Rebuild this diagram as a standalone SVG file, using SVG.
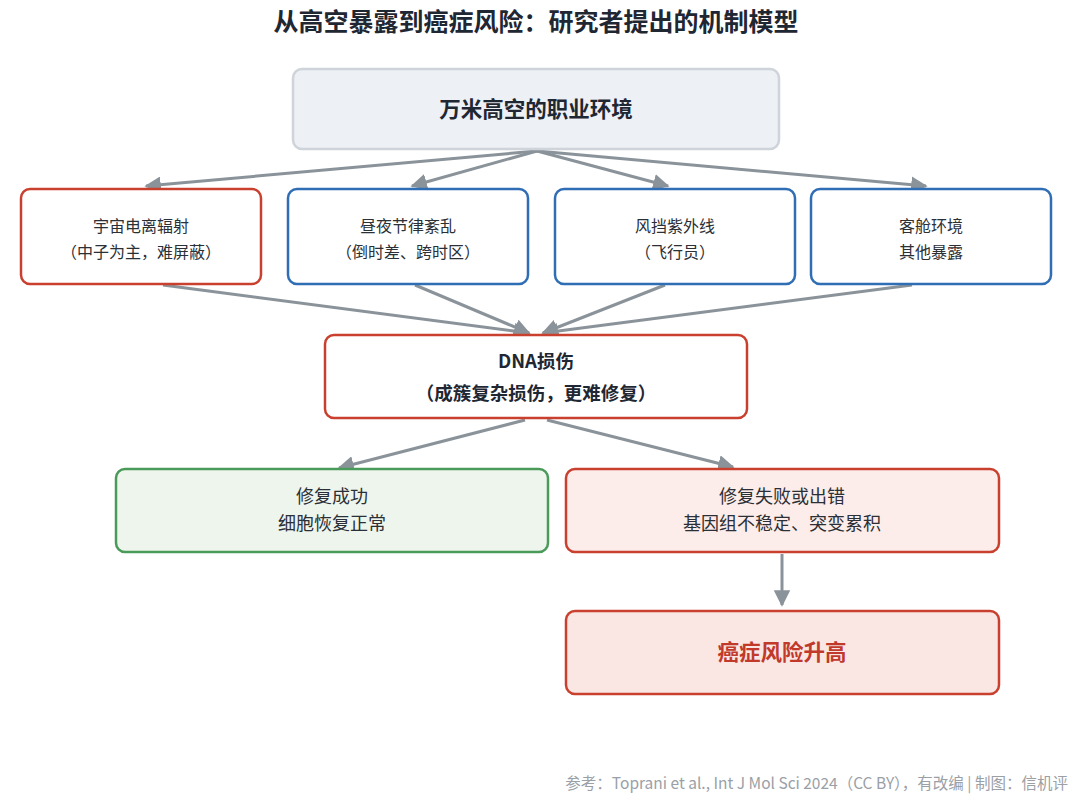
<svg xmlns="http://www.w3.org/2000/svg" width="1080" height="804" viewBox="0 0 1080 804">
<style>
text{font-family:"Noto Sans CJK SC","Noto Sans",sans-serif;text-anchor:middle}
.title{font-size:25px;font-weight:700;fill:#1f2733}
.lbl{font-size:16px;fill:#2b2f36}
.lbl2{font-size:18px;fill:#2b2f36}
.bold{font-weight:700;fill:#1f2733}
.red{stroke:#c9402f;stroke-width:2.5;fill:#fff}
.blue{stroke:#2f6db5;stroke-width:2.5;fill:#fff}
.conn line{stroke:#8b939a;stroke-width:3;marker-end:url(#ah)}
.foot{font-size:15.5px;fill:#9aa0a6;text-anchor:end}
</style>
<defs>
<marker id="ah" viewBox="0 0 10 10" refX="9" refY="5" markerWidth="5.5" markerHeight="5.5" orient="auto" markerUnits="strokeWidth">
<path d="M0,0 L10,5 L0,10 z" fill="#8b939a"/>
</marker>
</defs>
<rect width="1080" height="804" fill="#fff"/>
<text class="title" x="536" y="31">从高空暴露到癌症风险：研究者提出的机制模型</text>

<g class="conn" id="connectors">
<line x1="537" y1="151" x2="146" y2="186"/>
<line x1="537" y1="151" x2="412" y2="186"/>
<line x1="537" y1="151" x2="668" y2="186"/>
<line x1="537" y1="151" x2="926" y2="186"/>
<line x1="163" y1="285" x2="529" y2="333"/>
<line x1="415" y1="285" x2="529" y2="333"/>
<line x1="665" y1="285" x2="543" y2="333"/>
<line x1="912" y1="285" x2="543" y2="333"/>
<line x1="525" y1="420" x2="339" y2="468"/>
<line x1="547" y1="420" x2="733" y2="467"/>
<line x1="782" y1="554" x2="782" y2="605"/>
</g>

<g id="n-top">
<rect x="293" y="69" width="486" height="80" rx="9" fill="#edf0f5" stroke="#cfd4da" stroke-width="2.5"/>
<text class="bold" x="536" y="117" font-size="21.5">万米高空的职业环境</text>
</g>
<g id="n-radiation">
<rect class="red" x="21" y="189" width="240" height="95" rx="9"/>
<text class="lbl" x="141" y="232">宇宙电离辐射</text>
<text class="lbl" x="141" y="258">（中子为主，难屏蔽）</text>
</g>
<g id="n-circadian">
<rect class="blue" x="288" y="189" width="240" height="95" rx="9"/>
<text class="lbl" x="408" y="232">昼夜节律紊乱</text>
<text class="lbl" x="408" y="258">（倒时差、跨时区）</text>
</g>
<g id="n-uv">
<rect class="blue" x="555" y="189" width="240" height="95" rx="9"/>
<text class="lbl" x="675" y="232">风挡紫外线</text>
<text class="lbl" x="675" y="258">（飞行员）</text>
</g>
<g id="n-cabin">
<rect class="blue" x="811" y="189" width="240" height="95" rx="9"/>
<text class="lbl" x="931" y="232">客舱环境</text>
<text class="lbl" x="931" y="258">其他暴露</text>
</g>
<g id="n-dna">
<rect class="red" x="325" y="335" width="422" height="83" rx="9"/>
<text class="bold" x="536" y="368" font-size="18.5">DNA损伤</text>
<text class="bold" x="536" y="400" font-size="18.5">（成簇复杂损伤，更难修复）</text>
</g>
<g id="n-success">
<rect x="116" y="469" width="432" height="83" rx="9" fill="#eef5ed" stroke="#4a9a5a" stroke-width="2.5"/>
<text class="lbl2" x="332" y="503">修复成功</text>
<text class="lbl2" x="332" y="530">细胞恢复正常</text>
</g>
<g id="n-fail">
<rect x="566" y="469" width="433" height="83" rx="9" fill="#fcedea" stroke="#c9402f" stroke-width="2.5"/>
<text class="lbl2" x="782" y="503">修复失败或出错</text>
<text class="lbl2" x="782" y="530">基因组不稳定、突变累积</text>
</g>
<g id="n-cancer">
<rect x="566" y="611" width="433" height="83" rx="9" fill="#fae7e4" stroke="#c9402f" stroke-width="2.5"/>
<text x="782" y="660" font-size="21.5" font-weight="700" fill="#c0392b">癌症风险升高</text>
</g>

<text class="foot" x="1068" y="789">参考：Toprani et al., Int J Mol Sci 2024（CC BY），有改编 | 制图：信机评</text>
</svg>
